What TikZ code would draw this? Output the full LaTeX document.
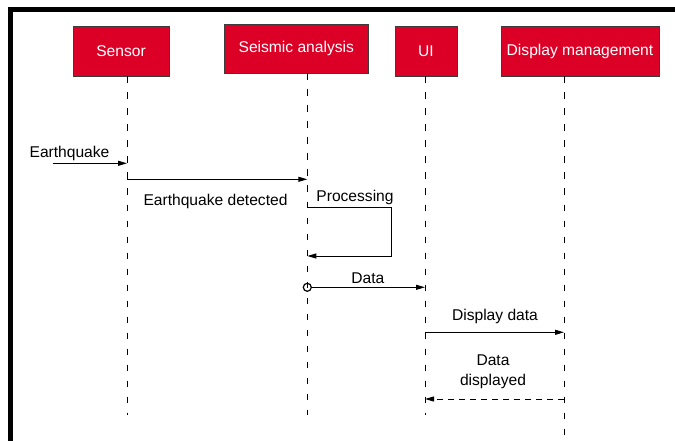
\documentclass[tikz,border=0pt]{standalone}
\usepackage{fontspec}
\setmainfont{Liberation Sans}
\usetikzlibrary{arrows.meta}
\definecolor{boxred}{RGB}{221,0,38}
\definecolor{boxedge}{RGB}{60,60,60}
\tikzset{
  actor/.style={draw=boxedge, line width=0.9pt, fill=boxred, text=white, minimum height=50pt, inner sep=0pt, font=\fontsize{15.6}{19}\selectfont},
  lifeline/.style={line width=1pt, dash pattern=on 6.5pt off 9.5pt},
  msg/.style={line width=1pt, -{Triangle[length=9pt,width=5pt]}},
  reply/.style={line width=1pt, dash pattern=on 6pt off 5pt, -{Triangle[length=9pt,width=5pt]}},
  lbl/.style={anchor=base, inner sep=0pt, font=\fontsize{15.6}{20}\selectfont},
}
\begin{document}
\begin{tikzpicture}[x=1pt,y=-1pt]
\useasboundingbox (0,0) rectangle (675,441);
\fill[white] (0,0) rectangle (675,441);
% frame
\draw[line width=5pt] (10.8,441) -- (10.8,9.8) -- (675,9.8);
% actors
\node[actor, minimum width=96pt] (sensor) at (121,51) {Sensor};
\node[actor, minimum width=144.7pt, minimum height=49.3pt] (seismic) at (296.3,48.7) {Seismic analysis};
\node[actor, minimum width=62pt] (ui) at (426,51) {UI};
\node[actor, minimum width=158pt] (display) at (580,51) {Display management};
% lifeline coordinates
\coordinate (sT) at (127,76.5);   \coordinate (sB) at (127,415);
\coordinate (aT) at (307.3,73.5); \coordinate (aB) at (307.3,415);
\coordinate (uT) at (425,76.5);   \coordinate (uB) at (425,415);
\coordinate (dT) at (564,76.5);   \coordinate (dB) at (564,435);
\draw[lifeline] (sT) -- (sB);
\draw[lifeline] (aT) -- (aB);
\draw[lifeline] (uT) -- (uB);
\draw[lifeline] (dT) -- (dB);
% Earthquake
\coordinate (eqStart) at (53,163.3);
\coordinate (eqEnd) at (127,163.3);
\draw[msg] (eqStart) -- (eqEnd);
\node[lbl] (eqL) at (69.5,157.5) {Earthquake};
% Earthquake detected
\coordinate (edA) at (127,179.3);
\coordinate (edB) at (307.3,179.3);
\draw[msg] (edA) -- (edB);
\node[lbl] (edL) at (215.5,205) {Earthquake detected};
% Processing
\coordinate (prA) at (307.3,207.7);
\coordinate (prC1) at (391.7,207.7);
\coordinate (prC2) at (391.7,256);
\coordinate (prB) at (307.3,256);
\draw[msg] (prA) -- (prC1) -- (prC2) -- (prB);
\node[lbl] (prL) at (355,201.7) {Processing};
% Data
\node[circle, draw, line width=1.2pt, inner sep=0pt, minimum size=8pt] (dot) at (307.3,287.3) {};
\coordinate (daB) at (425,287.3);
\draw[msg] (dot) -- (daB);
\node[lbl] (daL) at (367.8,283.3) {Data};
% Display data
\coordinate (ddA) at (425,332.3);
\coordinate (ddB) at (564,332.3);
\draw[msg] (ddA) -- (ddB);
\node[lbl] (ddL) at (495,320.7) {Display data};
% Data displayed
\coordinate (rpA) at (564,399);
\coordinate (rpB) at (425,399);
\draw[reply] (rpA) -- (rpB);
\node[lbl, align=center] (rpL) at (493,385) {Data\\displayed};
\end{tikzpicture}
\end{document}
